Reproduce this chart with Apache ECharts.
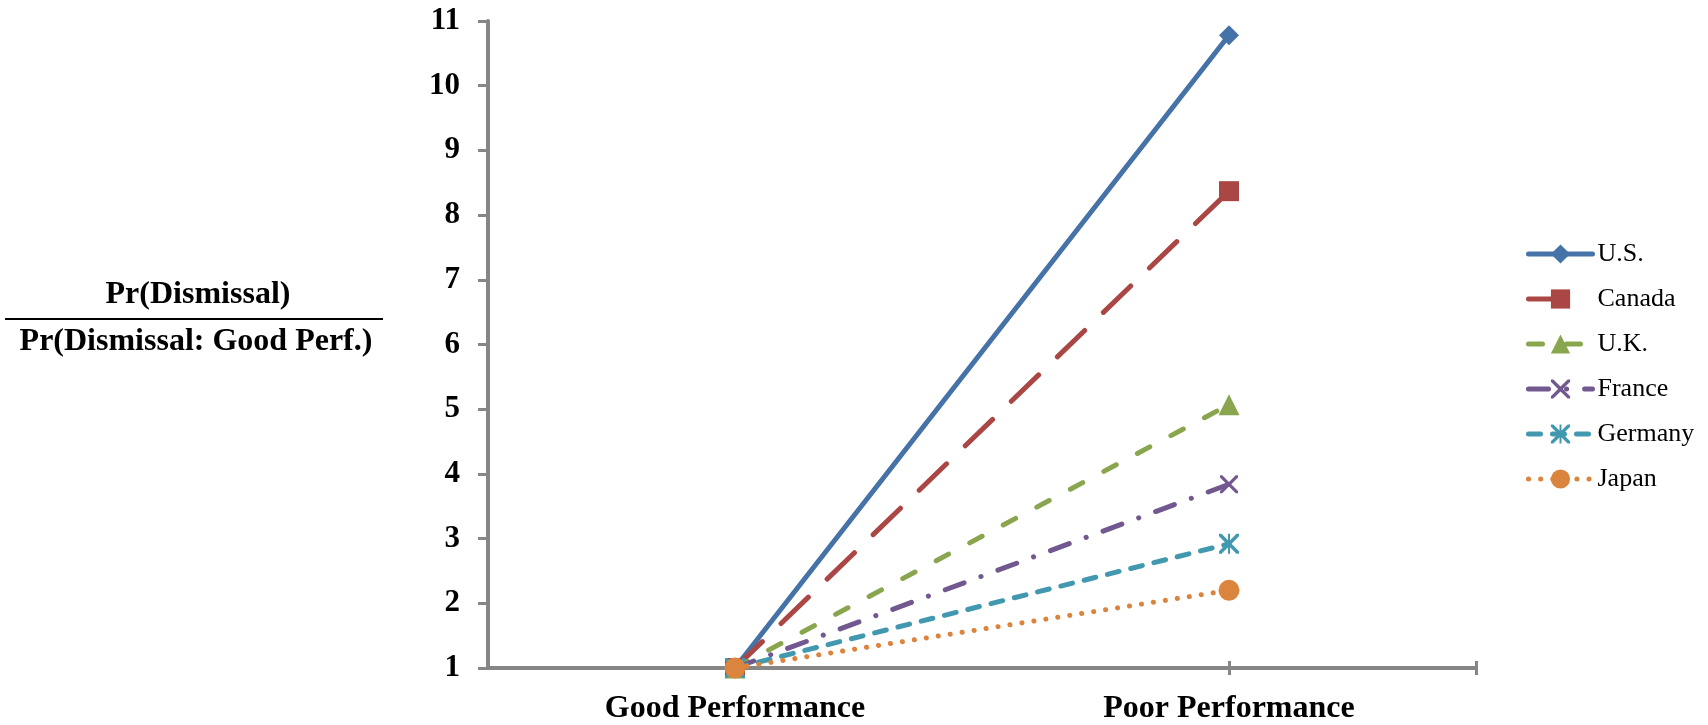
<!DOCTYPE html>
<html>
<head>
<meta charset="utf-8">
<script src="https://cdn.jsdelivr.net/npm/echarts@6/dist/echarts.min.js"></script>
<style>
html,body{margin:0;padding:0;background:#fff;}
#chart{width:1708px;height:725px;}
</style>
</head>
<body>
<div id="chart"></div>
<script>
const categories = ['Good Performance', 'Poor Performance'];
const countries = ['U.S.', 'Canada', 'U.K.', 'France', 'Germany', 'Japan'];
const usValues = [1, 10.78];
const canadaValues = [1, 8.37];
const ukValues = [1, 5.07];
const franceValues = [1, 3.84];
const germanyValues = [1, 2.92];
const japanValues = [1, 2.2];
const yTicks = { min: 1, max: 11, step: 1 };
const titleTop = 'Pr(Dismissal)';
const titleBottom = 'Pr(Dismissal: Good Perf.)';

const seriesValues = [usValues, canadaValues, ukValues, franceValues, germanyValues, japanValues];
const colors = ['#4572A7', '#AA4643', '#89A54E', '#71588F', '#4198AF', '#DB843D'];
const dashes = ['solid', [38, 26], [14, 24], [20, 18, 0.1, 18], [12, 12], [0.1, 12]];
const xPath = 'path://M0,0 L2.5,0 L10,7.5 L17.5,0 L20,0 L20,2.5 L12.5,10 L20,17.5 L20,20 L17.5,20 L10,12.5 L2.5,20 L0,20 L0,17.5 L7.5,10 L0,2.5 Z';
const starPath = xPath + ' M9,0 L11,0 L11,20 L9,20 Z';
const symbols = ['diamond', 'rect', 'triangle', xPath, starPath, 'circle'];
const sizes = [20, 20, 21, 18, 20, 21];

const chart = echarts.init(document.getElementById('chart'));
const serif = '"Liberation Serif", "Times New Roman", serif';

const series = countries.map((name, i) => ({
  name: name,
  type: 'line',
  xAxisIndex: 0,
  yAxisIndex: 0,
  data: seriesValues[i],
  symbol: symbols[i],
  symbolSize: sizes[i],
  showSymbol: true,
  z: 10 + i,
  lineStyle: { color: colors[i], width: 5, type: dashes[i], cap: 'round' },
  itemStyle: { color: colors[i], borderWidth: 0 },
  emphasis: { disabled: true },
  animation: false
}));

const option = {
  animation: false,
  grid: { left: 488, right: 232, top: 21, bottom: 57, containLabel: false },
  legend: {
    orient: 'vertical',
    left: 1521,
    top: 236,
    itemWidth: 64,
    itemHeight: 24,
    itemGap: 19,
    data: countries,
    lineStyle: { width: 5, cap: 'round' },
    textStyle: { fontFamily: serif, fontSize: 26, color: '#000', lineHeight: 26 },
    selectedMode: false
  },
  xAxis: [
    {
      type: 'category',
      data: categories,
      boundaryGap: true,
      axisLine: { lineStyle: { color: '#868686', width: 4 } },
      axisTick: { show: false },
      axisLabel: { fontFamily: serif, fontWeight: 'bold', fontSize: 32, color: '#000', margin: 25 },
      splitLine: { show: false }
    },
    {
      type: 'value', min: 0, max: 2, position: 'bottom',
      axisLine: { show: false },
      axisLabel: { show: false },
      splitLine: { show: false },
      axisTick: { show: true, customValues: [0.5, 1.5, 2], length: 7, inside: false, lineStyle: { color: '#868686', width: 3 } }
    },
    {
      type: 'value', min: 0, max: 2, position: 'bottom',
      axisLine: { show: false },
      axisLabel: { show: false },
      splitLine: { show: false },
      axisTick: { show: true, customValues: [0.5, 1.5, 2], length: 7, inside: true, lineStyle: { color: '#868686', width: 3 } }
    }
  ],
  yAxis: {
    type: 'value',
    min: yTicks.min,
    max: yTicks.max,
    interval: yTicks.step,
    axisLine: { show: true, lineStyle: { color: '#868686', width: 4 } },
    axisTick: { show: true, length: 10, lineStyle: { color: '#868686', width: 3 } },
    axisLabel: { fontFamily: serif, fontWeight: 'bold', fontSize: 31, color: '#000', margin: 28 },
    splitLine: { show: false }
  },
  graphic: [
    { type: 'text', style: { x: 198, y: 295, text: titleTop, font: 'bold 32px ' + serif, fill: '#000', textAlign: 'center', textVerticalAlign: 'middle' } },
    { type: 'line', shape: { x1: 5, y1: 319, x2: 383, y2: 319 }, style: { stroke: '#000', lineWidth: 2 } },
    { type: 'text', style: { x: 196, y: 342, text: titleBottom, font: 'bold 32px ' + serif, fill: '#000', textAlign: 'center', textVerticalAlign: 'middle' } }
  ],
  series: series
};
chart.setOption(option);
</script>
</body>
</html>
